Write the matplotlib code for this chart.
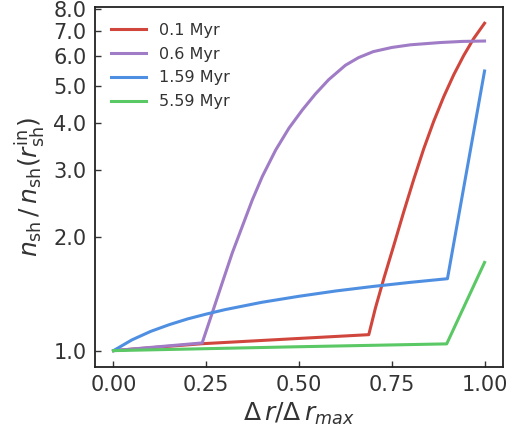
import numpy as np
import matplotlib
matplotlib.use("Agg")
import matplotlib.pyplot as plt
from matplotlib.ticker import FixedLocator, FormatStrFormatter, NullLocator

# shell density profiles, normalised to the inner edge value
labels = ["0.1 Myr", "0.6 Myr", "1.59 Myr", "5.59 Myr"]
colors = ["#d0463c", "#a07cc6", "#4f8fe2", "#5ac864"]

x_01 = [0.0, 0.239, 0.477, 0.688, 0.706, 0.729, 0.756, 0.782, 0.809, 0.836, 0.863,
        0.890, 0.917, 0.944, 0.971, 1.0]
n_01 = [1.0, 1.043, 1.074, 1.102, 1.297, 1.556, 1.905, 2.323, 2.831, 3.412, 4.036,
        4.688, 5.358, 6.026, 6.683, 7.328]

x_06 = [0.0, 0.239, 0.266, 0.293, 0.320, 0.347, 0.374, 0.401, 0.437, 0.473, 0.509,
        0.544, 0.580, 0.625, 0.66, 0.70, 0.75, 0.80, 0.88, 0.94, 1.0]
n_06 = [1.0, 1.048, 1.257, 1.510, 1.811, 2.128, 2.500, 2.884, 3.388, 3.873, 4.325,
        4.764, 5.200, 5.675, 5.943, 6.166, 6.324, 6.427, 6.516, 6.561, 6.577]

x_159 = [0.0, 0.05, 0.1, 0.15, 0.2, 0.25, 0.3, 0.4, 0.5, 0.6, 0.7, 0.8, 0.9, 1.0]
n_159 = [1.0, 1.068, 1.124, 1.171, 1.213, 1.249, 1.283, 1.342, 1.392, 1.438, 1.478,
         1.515, 1.549, 5.48]

x_559 = [0.0, 0.25, 0.477, 0.898, 1.0]
n_559 = [1.0, 1.012, 1.023, 1.042, 1.71]

yticks = [1, 2, 3, 4, 5, 6, 7, 8]

txt = "#333333"
plt.rcParams["text.color"] = txt
plt.rcParams["axes.labelcolor"] = txt
plt.rcParams["xtick.color"] = txt
plt.rcParams["ytick.color"] = txt

fig = plt.figure(figsize=(5.16, 4.30), dpi=100)
ax = fig.add_axes([0.184, 0.1465, 0.791, 0.8375])

profiles = [(x_01, n_01), (x_06, n_06), (x_159, n_159), (x_559, n_559)]
for (xs, ns), lab, c in zip(profiles, labels, colors):
    ax.plot(xs, ns, color=c, lw=2.2, label=lab, solid_joinstyle="round")

ax.set_yscale("log")
ax.yaxis.set_major_locator(FixedLocator(yticks))
ax.yaxis.set_major_formatter(FormatStrFormatter("%.1f"))
ax.yaxis.set_minor_locator(NullLocator())
ax.set_xticks([0.0, 0.25, 0.5, 0.75, 1.0])
ax.xaxis.set_major_formatter(FormatStrFormatter("%.2f"))

ax.tick_params(direction="in", length=4, width=1, labelsize=15, pad=6)
for s in ax.spines.values():
    s.set_color("#222222")
    s.set_linewidth(1.3)

ax.set_xlabel(r"$\Delta\,r/\Delta\,r_{max}$", fontsize=18)
ax.set_ylabel(r"$n_{\rm sh}\,/\,n_{\rm sh}(r_{\rm sh}^{\rm in})$", fontsize=18)

ax.legend(loc="upper left", frameon=False, fontsize=11.5, handlelength=2.2,
          borderaxespad=0.6, labelspacing=0.55)

fig.savefig("out.png", dpi=100)
